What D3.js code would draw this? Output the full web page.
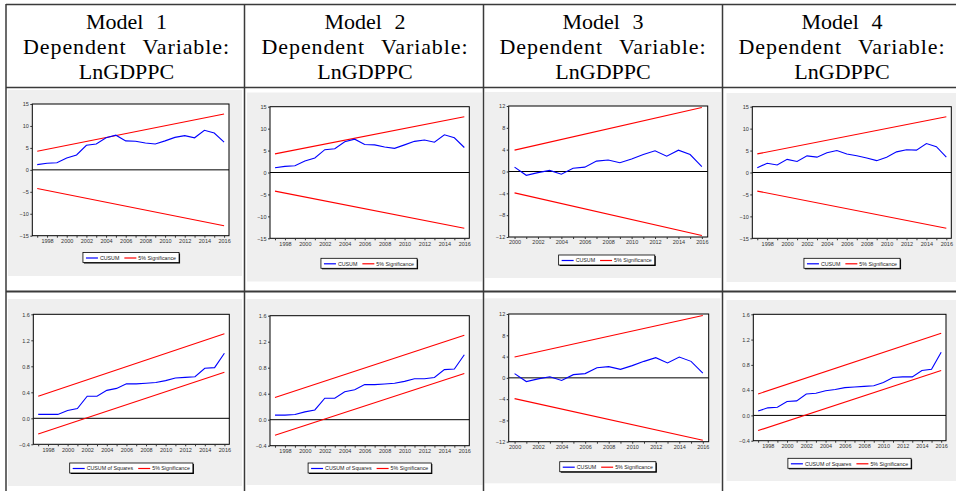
<!DOCTYPE html>
<html><head><meta charset="utf-8">
<script src="https://cdn.jsdelivr.net/npm/d3@7"></script>
<style>
html,body{margin:0;padding:0;background:#fff;}
svg{display:block;}
</style></head>
<body>
<svg id="c" width="956" height="491"></svg>
<script>
// ---------------- DATA ----------------
const models = ["Model 1", "Model 2", "Model 3", "Model 4"];
const headerLine2 = "Dependent Variable:";
const headerLine3 = "LnGDPPC";

const yearsA = [1997,1998,1999,2000,2001,2002,2003,2004,2005,2006,2007,2008,2009,2010,2011,2012,2013,2014,2015,2016];
const yearsB = [2000,2001,2002,2003,2004,2005,2006,2007,2008,2009,2010,2011,2012,2013,2014,2015,2016];

const cusumM1 = [1.2,1.5,1.6,2.7,3.4,5.6,5.9,7.3,7.9,6.6,6.5,6.1,5.9,6.6,7.4,7.8,7.3,9.0,8.4,6.3];
const cusumM2 = [1.1,1.4,1.55,2.6,3.3,5.2,5.4,7.0,7.6,6.4,6.3,5.8,5.5,6.3,7.1,7.4,6.9,8.6,7.9,5.7];
const cusumM3 = [0.8,-0.7,-0.2,0.2,-0.5,0.6,0.8,1.9,2.1,1.6,2.3,3.1,3.8,2.8,3.9,3.1,0.9];
const cusumM4 = [1.1,2.1,1.7,3.0,2.5,3.8,3.5,4.5,5.0,4.2,3.8,3.3,2.7,3.5,4.7,5.2,5.1,6.6,5.9,3.5];

const cusumsqM1 = [0.06,0.06,0.06,0.12,0.15,0.34,0.34,0.43,0.46,0.53,0.53,0.54,0.55,0.58,0.62,0.63,0.64,0.77,0.78,1.0];
const cusumsqM2 = [0.07,0.07,0.08,0.12,0.15,0.33,0.33,0.43,0.46,0.54,0.54,0.55,0.56,0.59,0.63,0.63,0.65,0.77,0.78,1.0];
const cusumsqM4 = [0.07,0.12,0.13,0.22,0.23,0.34,0.35,0.39,0.41,0.44,0.45,0.46,0.47,0.52,0.60,0.61,0.61,0.71,0.73,1.0];

// 5% significance bounds: [value at first obs, value at last obs]
const sigCusumA_upper = [4.24, 12.72];
const sigCusumA_lower = [-4.24, -12.72];
const sigCusumB_upper = [3.91, 11.73];
const sigCusumB_lower = [-3.91, -11.73];
const sigSq_upper = [0.34, 1.30];
const sigSq_lower = [-0.24, 0.71];

const yTicksCusumA = [-15,-10,-5,0,5,10,15];
const yTicksCusumB = [-12,-8,-4,0,4,8,12];
const yTicksSq = [-0.4,0.0,0.4,0.8,1.2,1.6];

const legendCusum = ["CUSUM", "5% Significance"];
const legendSq = ["CUSUM of Squares", "5% Significance"];

// ---------------- LAYOUT ----------------
const svg = d3.select("#c");
const colX = [6, 244.5, 483.5, 722.5, 962];
const lineCol = "#3a3a3a";

const panels = [
  {bg:[8,90,234,186], fr:[32.3,104,196.7,131.7], lg:[131,257.5], years:yearsA, vals:cusumM1, up:sigCusumA_upper, lo:sigCusumA_lower, yt:yTicksCusumA, fmt:d3.format("d"), leg:legendCusum},
  {bg:[247,92.5,235,189], fr:[270,106.7,199.3,131.6], lg:[369,263.3], years:yearsA, vals:cusumM2, up:sigCusumA_upper, lo:sigCusumA_lower, yt:yTicksCusumA, fmt:d3.format("d"), leg:legendCusum},
  {bg:[485,92,236,186], fr:[508.7,106,199,131], lg:[606.7,260], years:yearsB, vals:cusumM3, up:sigCusumB_upper, lo:sigCusumB_lower, yt:yTicksCusumB, fmt:d3.format("d"), leg:legendCusum},
  {bg:[726.5,93,232,189], fr:[752.3,106.7,199,131.6], lg:[852,263.3], years:yearsA, vals:cusumM4, up:sigCusumA_upper, lo:sigCusumA_lower, yt:yTicksCusumA, fmt:d3.format("d"), leg:legendCusum},
  {bg:[8,299,234,187], fr:[33.3,314.3,196,130], lg:[131.3,468], years:yearsA, vals:cusumsqM1, up:sigSq_upper, lo:sigSq_lower, yt:yTicksSq, fmt:d3.format(".1f"), leg:legendSq},
  {bg:[246.5,299,236,186], fr:[270,315.7,199.3,130], lg:[369.7,468], years:yearsA, vals:cusumsqM2, up:sigSq_upper, lo:sigSq_lower, yt:yTicksSq, fmt:d3.format(".1f"), leg:legendSq},
  {bg:[484.5,298.3,236,185], fr:[508.7,314,200,127.7], lg:[607.8,466.7], years:yearsB, vals:cusumM3, up:sigCusumB_upper, lo:sigCusumB_lower, yt:yTicksCusumB, fmt:d3.format("d"), leg:legendCusum},
  {bg:[726.5,300,232,181], fr:[753.3,314.3,192.7,126.4], lg:[849.5,463.3], years:yearsA, vals:cusumsqM4, up:sigSq_upper, lo:sigSq_lower, yt:yTicksSq, fmt:d3.format(".1f"), leg:legendSq}
];

panels.forEach(p=>{
  svg.append("rect").attr("x",p.bg[0]).attr("y",p.bg[1]).attr("width",p.bg[2]).attr("height",p.bg[3]).attr("fill","#efefef");
});

svg.append("line").attr("x1",colX[0]).attr("x2",962).attr("y1",4.5).attr("y2",4.5).attr("stroke",lineCol).attr("stroke-width",1.5);
svg.append("line").attr("x1",colX[0]).attr("x2",962).attr("y1",87.5).attr("y2",87.5).attr("stroke",lineCol).attr("stroke-width",1.5);
svg.append("line").attr("x1",colX[0]).attr("x2",962).attr("y1",291.5).attr("y2",291.5).attr("stroke",lineCol).attr("stroke-width",2);
colX.slice(0,4).forEach(x=>{
  svg.append("line").attr("x1",x).attr("x2",x).attr("y1",4).attr("y2",491).attr("stroke",lineCol).attr("stroke-width",1.5);
});

// header text
models.forEach((m,i)=>{
  const cx = [126.5,365,603,842][i];
  const g = svg.append("g").attr("font-family","'Liberation Serif','Times New Roman',serif").attr("font-size",22).attr("fill","#000").attr("text-anchor","middle");
  g.append("text").attr("x",cx).attr("y",28.5).attr("word-spacing",7).text(m);
  g.append("text").attr("x",cx).attr("y",53.5).attr("word-spacing",10).attr("letter-spacing",0.9).text(headerLine2);
  g.append("text").attr("x",cx).attr("y",79).text(headerLine3);
});

const tickFont = "'Liberation Sans',Arial,sans-serif";
panels.forEach(p=>{
  const [fx,fy,fw,fh] = p.fr;
  const g = svg.append("g");
  g.append("rect").attr("x",fx).attr("y",fy).attr("width",fw).attr("height",fh).attr("fill","#fff");
  const x = d3.scalePoint().domain(p.years).range([fx,fx+fw]).padding(0.5);
  const y = d3.scaleLinear().domain([p.yt[0],p.yt[p.yt.length-1]]).range([fy+fh,fy]);

  g.append("line").attr("x1",fx).attr("x2",fx+fw).attr("y1",y(0)).attr("y2",y(0)).attr("stroke","#000").attr("stroke-width",1);

  const first = p.years[0], last = p.years[p.years.length-1];
  [p.up,p.lo].forEach(b=>{
    g.append("line").attr("x1",x(first)).attr("y1",y(b[0])).attr("x2",x(last)).attr("y2",y(b[1]))
      .attr("stroke","#ff0000").attr("stroke-width",1.1);
  });
  g.append("path").datum(p.vals.map((v,i)=>[p.years[i],v]))
    .attr("d",d3.line().x(d=>x(d[0])).y(d=>y(d[1])))
    .attr("fill","none").attr("stroke","#0000ff").attr("stroke-width",1.1);

  g.append("rect").attr("x",fx).attr("y",fy).attr("width",fw).attr("height",fh).attr("fill","none").attr("stroke","#000").attr("stroke-width",1);

  const ya = g.append("g").attr("transform",`translate(${fx},0)`)
    .call(d3.axisLeft(y).tickValues(p.yt).tickSize(2).tickPadding(1.5).tickFormat(p.fmt));
  ya.select(".domain").remove();
  ya.selectAll("text").attr("font-family",tickFont).attr("font-size",5.5).attr("fill","#333");
  ya.selectAll("line").attr("stroke","#333");
  const xa = g.append("g").attr("transform",`translate(0,${fy+fh})`)
    .call(d3.axisBottom(x).tickValues(p.years).tickSize(2).tickPadding(1.5).tickFormat(d=> d%2===0 ? String(d) : ""));
  xa.select(".domain").remove();
  xa.selectAll("text").attr("font-family",tickFont).attr("font-size",5.5).attr("fill","#333");
  xa.selectAll("line").attr("stroke","#333");

  const lg = g.append("g");
  const fs = 5.3;
  const t1 = lg.append("text").attr("font-family",tickFont).attr("font-size",fs).attr("fill","#222").text(p.leg[0]);
  const t2 = lg.append("text").attr("font-family",tickFont).attr("font-size",fs).attr("fill","#222").text(p.leg[1]);
  const w1 = t1.node().getComputedTextLength(), w2 = t2.node().getComputedTextLength();
  const pad=3, sw=12, gap=2, sep=5;
  const W = pad+sw+gap+w1+sep+sw+gap+w2+pad, H=10;
  const lx = p.lg[0]-W/2, ly = p.lg[1]-H/2;
  lg.insert("rect","text").attr("x",lx+1).attr("y",ly+1).attr("width",W).attr("height",H).attr("fill","#000");
  lg.insert("rect","text").attr("x",lx).attr("y",ly).attr("width",W).attr("height",H).attr("fill","#fff").attr("stroke","#000").attr("stroke-width",0.8);
  let cx = lx+pad;
  const my = ly+H/2+0.5;
  lg.append("line").attr("x1",cx).attr("x2",cx+sw).attr("y1",my).attr("y2",my).attr("stroke","#0000ff").attr("stroke-width",1.2);
  cx += sw+gap;
  t1.attr("x",cx).attr("y",my+1.9);
  cx += w1+sep;
  lg.append("line").attr("x1",cx).attr("x2",cx+sw).attr("y1",my).attr("y2",my).attr("stroke","#ff0000").attr("stroke-width",1.2);
  cx += sw+gap;
  t2.attr("x",cx).attr("y",my+1.9);
});
</script>
</body></html>
